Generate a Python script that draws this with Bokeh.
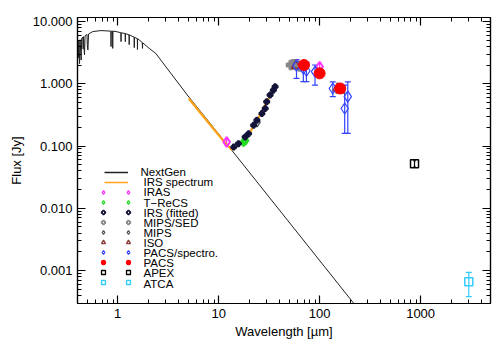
from bokeh.plotting import figure
from bokeh.models import (ColumnDataSource, FixedTicker, LogAxis, Whisker, TeeHead,
                          Legend, LegendItem, CustomJSTickFormatter, Label)
from bokeh.embed import file_html
from bokeh.resources import INLINE

NAN = float("nan")

# ---------------- data ----------------
ng_wave = [0.402, 0.405, 0.408, 0.412, 0.416, 0.419, 0.424, 0.430, 0.435, 0.440,
           0.452, 0.455, 0.458, 0.469, 0.475, 0.488, 0.497, 0.500, 0.507, 0.515,
           0.568, 0.685, 0.855, 0.859, 0.864, 0.889, 0.893, 0.898,
           0.962, 1.075, 1.080, 1.085, 1.185, 1.190, 1.195, 1.295, 1.300, 1.305,
           1.455, 1.460, 1.465, 1.565, 1.570, 1.575, 1.630, 1.75, 1.76, 1.77,
           2.05, 2.38, 4.89, 13.5, 220.0]
ng_flux = [4.6, 3.4, 2.6, 4.9, 3.0, 2.1, 5.1, 3.3, 2.4, 5.4,
           5.6, 3.6, 5.7, 2.9, 5.9, 6.1, 6.2, 4.2, 3.5, 6.3,
           6.9, 7.15, 7.0, 3.95, 7.0, 7.0, 3.7, 7.0,
           6.9, 6.6, 4.75, 6.6, 6.4, 4.75, 6.4, 6.1, 4.25, 6.1,
           5.6, 3.8, 5.6, 5.3, 3.55, 5.3, 5.07, 4.6, 3.7, 4.55,
           3.71, 3.08, 0.66, 0.0853, 0.00029]

irs_wave = [5.05, 8.0, 12.0, 13.5, 14.5, 16.0, 20.0, 25.0, 30.0, 35.0, 37.5]
irs_flux = [0.58, 0.232, 0.105, 0.088, 0.093, 0.106, 0.158, 0.29, 0.52, 0.80, 0.98]

iras_wave = [12.0, 60.0, 100.0]
iras_flux = [0.116, 2.0, 1.88]
iras_lo = [0.106, 1.8, 1.7]
iras_hi = [0.127, 2.2, 2.1]

trecs_wave = [17.6, 18.5]
trecs_flux = [0.116, 0.122]

irsfit_wave = [14.1, 15.7, 18.3, 19.8, 22.2, 23.9, 26.8, 28.9, 29.9, 32.3, 34.8, 36.2]
irsfit_flux = [0.096, 0.109, 0.140, 0.158, 0.215, 0.259, 0.332, 0.40, 0.513, 0.66, 0.79, 0.895]

mipssed_wave = [52.0, 55.0, 58.0, 61.0, 64.0]
mipssed_flux = [2.0, 2.05, 2.0, 1.95, 1.9]

mips_wave = [24.0, 70.0]
mips_flux = [0.24, 1.9]

iso_wave = [58.0, 150.0, 160.0]
iso_flux = [1.95, 0.85, 0.78]

pspec_wave = [59.0, 69.0, 74.0, 90.0, 135.0, 190.0, 177.0]
pspec_flux = [1.95, 1.74, 1.62, 1.57, 0.84, 0.62, 0.40]
pspec_lo = [1.22, 1.08, 1.08, 0.95, 0.62, 0.16, 0.16]
pspec_hi = [2.45, 2.3, 2.2, 2.0, 1.07, 1.07, 0.95]

pacs_wave = [70.0, 100.0, 160.0]
pacs_flux = [2.0, 1.47, 0.84]

apex_wave = [870.0]
apex_flux = [0.052]
apex_lo = [0.046]
apex_hi = [0.058]

atca_wave = [3000.0]
atca_flux = [6.6e-4]
atca_lo = [3.8e-4]
atca_hi = [9.3e-4]

legend_labels = ["NextGen", "IRS spectrum", "IRAS", "T−ReCS", "IRS (fitted)", "MIPS/SED",
                 "MIPS", "ISO", "PACS/spectro.", "PACS", "APEX", "ATCA"]

x_ticks = [1, 10, 100, 1000]
x_labels = ["1", "10", "100", "1000"]
y_ticks = [0.001, 0.01, 0.1, 1, 10]
y_labels = ["0.001", "0.010", "0.100", "1.000", "10.000"]

FONT = "Liberation Sans"

def minor(lo_exp, hi_exp):
    out = []
    for e in range(lo_exp, hi_exp + 1):
        for m in range(2, 10):
            out.append(m * 10.0 ** e)
    return out

x_minor = minor(-1, 3)
y_minor = minor(-4, 1)

p = figure(width=500, height=351, x_axis_type="log", y_axis_type="log",
           x_range=(0.40, 4920), y_range=(2.95e-4, 11.6),
           output_backend="svg", toolbar_location=None,
           min_border_left=77, min_border_right=10, min_border_top=17, min_border_bottom=48)
p.background_fill_color = "white"
p.border_fill_color = "white"
p.outline_line_color = "black"
p.outline_line_width = 1.2
p.xgrid.visible = False
p.ygrid.visible = False

def style_axis(ax, ticks, minors, labels=None):
    ax.ticker = FixedTicker(ticks=ticks, minor_ticks=minors)
    ax.major_tick_in = 8
    ax.major_tick_out = 0
    ax.minor_tick_in = 4
    ax.minor_tick_out = 0
    ax.axis_line_color = "black"
    ax.axis_line_width = 1.2
    ax.major_tick_line_color = "black"
    ax.minor_tick_line_color = "black"
    ax.major_tick_line_width = 1.2
    ax.minor_tick_line_width = 1.0
    ax.major_label_text_font = FONT
    ax.major_label_text_font_size = "13px"
    ax.major_label_text_color = "black"
    ax.axis_label_text_font = FONT
    ax.axis_label_text_font_size = "13px"
    ax.axis_label_text_font_style = "normal"
    ax.axis_label_text_color = "black"
    if labels is not None:
        ax.major_label_overrides = {t: l for t, l in zip(ticks, labels)}
    else:
        ax.formatter = CustomJSTickFormatter(code="return ''")

xa = p.xaxis[0]
ya = p.yaxis[0]
style_axis(xa, x_ticks, x_minor, x_labels)
style_axis(ya, y_ticks, y_minor, y_labels)
xa.axis_label = "Wavelength [µm]"
ya.axis_label = "Flux [Jy]"
xa.major_label_standoff = 5
xa.axis_label_standoff = 3
ya.major_label_standoff = 5
ya.axis_label_standoff = 6

top = LogAxis()
style_axis(top, x_ticks, x_minor)
top.major_label_standoff = 0
p.add_layout(top, "above")
right = LogAxis()
style_axis(right, y_ticks, y_minor)
right.major_label_standoff = 0
p.add_layout(right, "right")

# ---------------- colours ----------------
C_NG = "#222222"
C_IRS = "#ffa31a"
C_IRAS = "#ff33ff"
C_TRECS = "#22dd22"
C_IRSFIT = "#14143a"
C_MSED = "#888888"
C_MIPS = "#555555"
C_ISO = "#8b3a3a"
C_PSPEC = "#3344ff"
C_PACS = "#ff0000"
C_APEX = "#000000"
C_ATCA = "#33ccff"

# ---------------- glyphs ----------------
r_ng = p.line(ng_wave, ng_flux, line_color=C_NG, line_width=1)
r_irs = p.line(irs_wave, irs_flux, line_color=C_IRS, line_width=2.2)

def whisk(wave, lo, hi, color, head=4):
    src = ColumnDataSource(dict(x=wave, lo=lo, hi=hi))
    w = Whisker(base="x", lower="lo", upper="hi", source=src, dimension="height",
                line_color=color, line_width=1.2,
                upper_head=TeeHead(size=head, line_color=color, line_width=1.2),
                lower_head=TeeHead(size=head, line_color=color, line_width=1.2))
    p.add_layout(w)

whisk(pspec_wave, pspec_lo, pspec_hi, C_PSPEC, head=6)
whisk(iras_wave, iras_lo, iras_hi, C_IRAS, head=4)
whisk(apex_wave, apex_lo, apex_hi, C_APEX, head=3)
whisk(atca_wave, atca_lo, atca_hi, C_ATCA, head=6)

p.scatter(iras_wave, iras_flux, marker="diamond", size=10, fill_color=None,
          line_color=C_IRAS, line_width=2)
p.scatter(trecs_wave, trecs_flux, marker="diamond", size=9, fill_color=C_TRECS,
          line_color=C_TRECS, line_width=1.5)
p.scatter(mipssed_wave, mipssed_flux, marker="plus", size=9,
          fill_color=C_MSED, line_color=C_MSED, line_width=1.5)
p.scatter(mips_wave, mips_flux, marker="diamond", size=9, fill_color=None,
          line_color=C_MIPS, line_width=1.5)
p.scatter(iso_wave, iso_flux, marker="triangle", size=9, fill_color=None,
          line_color=C_ISO, line_width=1.5)
p.scatter(pspec_wave, pspec_flux, marker="diamond", size=11, fill_color=None,
          line_color=C_PSPEC, line_width=1.2)
p.scatter(pacs_wave, pacs_flux, marker="circle", size=11, fill_color=C_PACS,
          line_color=C_PACS)
p.scatter(irsfit_wave, irsfit_flux, marker="plus", size=5,
          fill_color=C_IRSFIT, line_color=C_IRSFIT, line_width=2)
p.scatter(apex_wave, apex_flux, marker="square", size=8, fill_color=None,
          line_color=C_APEX, line_width=1.5)
p.scatter(atca_wave, atca_flux, marker="square", size=8, fill_color=None,
          line_color=C_ATCA, line_width=1.5)

# ---------------- legend ----------------
# legend-only renderers (a single undefined point), symbols drawn open and thin
def leg_marker(marker, color, filled=False):
    return p.scatter(x=[NAN], y=[NAN], marker=marker, size=6,
                     fill_color=color if filled else None,
                     line_color=color, line_width=1.3)

leg_lines = [p.line(x=[NAN], y=[NAN], line_color=C_NG, line_width=1.5),
             p.line(x=[NAN], y=[NAN], line_color=C_IRS, line_width=1.5)]
leg_marks = [leg_marker("diamond", C_IRAS), leg_marker("diamond", C_TRECS),
             leg_marker("plus", C_IRSFIT), leg_marker("plus", C_MSED),
             leg_marker("diamond", C_MIPS), leg_marker("triangle", C_ISO),
             leg_marker("diamond", C_PSPEC), leg_marker("circle", C_PACS, filled=True),
             leg_marker("square", C_APEX), leg_marker("square", C_ATCA)]

ROW = 10

def glyph_legend(renderers, gw, loc):
    lg = Legend(items=[LegendItem(label=" ", renderers=[r]) for r in renderers],
                location=loc)
    lg.background_fill_alpha = 0
    lg.border_line_color = None
    lg.padding = 0
    lg.margin = 0
    lg.spacing = 0
    lg.glyph_width = gw
    lg.glyph_height = ROW
    lg.label_height = ROW
    lg.label_width = 0
    lg.label_standoff = 0
    lg.label_text_font_size = "1px"
    lg.label_text_alpha = 0
    p.add_layout(lg)

first_row = 303 - 171.7          # NextGen row centre, measured from the frame bottom
glyph_legend(leg_lines, 24, (27, int(round(first_row - 2 * ROW + ROW / 2))))
marks_bottom = int(round(first_row - 12 * ROW + ROW / 2))
glyph_legend(leg_marks, 10, (21, marks_bottom))
glyph_legend(leg_marks, 10, (46, marks_bottom))

for i, txt in enumerate(legend_labels):
    p.add_layout(Label(x=63 if i == 0 else 66, y=first_row - i * 10.12, x_units="screen",
                       y_units="screen", text=txt, text_font=FONT,
                       text_font_size="11.5px", text_baseline="middle",
                       text_color="black"))

open("out.html", "w").write(file_html(p, INLINE))
